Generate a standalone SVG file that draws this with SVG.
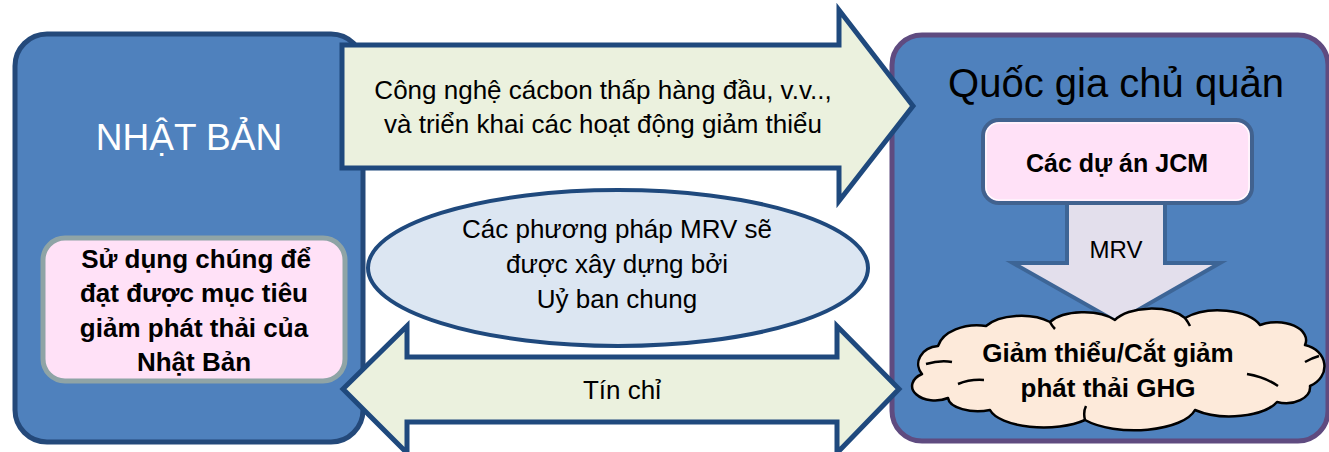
<svg xmlns="http://www.w3.org/2000/svg" width="1329" height="452" viewBox="0 0 1329 452">
<style>
text{font-family:"Liberation Sans",Arial,sans-serif;text-anchor:middle;fill:#000}
.reg{font-size:26px}
.bold{font-size:26px;font-weight:bold}
.big{fill:#fff;font-size:37px}
.bluebox{fill:#4F81BD;stroke-width:5}
.arrow{fill:#EBF1DE;stroke:#1F497D;stroke-width:5;stroke-linejoin:miter}
</style>
<rect width="1329" height="452" fill="#fff"/>
<g id="japan">
<rect class="bluebox" x="15" y="34" width="348" height="408" rx="32" stroke="#24497A"/>
<text class="big" x="189" y="150">NHẬT BẢN</text>
</g>
<g id="japan-goal">
<rect x="43" y="238" width="302" height="143" rx="22" fill="#FFE1F7" stroke="#8FA4A6" stroke-width="5"/>
<text class="bold" x="196" y="268">Sử dụng chúng để</text>
<text class="bold" x="194" y="302">đạt được mục tiêu</text>
<text class="bold" x="194" y="337">giảm phát thải của</text>
<text class="bold" x="194" y="371">Nhật Bản</text>
</g>
<g id="host">
<rect class="bluebox" x="892" y="35" width="436" height="406" rx="30" stroke="#5F4B80"/>
<text x="1116" y="97" style="font-size:40px">Quốc gia chủ quản</text>
</g>
<g id="connectors">
<path id="tech-arrow" class="arrow" d="M342,45 H839 V10 L913,106 L839,201 V168 H342 Z"/>
<path id="credit-arrow" class="arrow" d="M343,389 L407,326 V357 H837 V326 L899,389 L837,453 V422 H407 V453 Z"/>
<path id="mrv-arrow" d="M1067,203 H1165 V263 H1220 L1117,322 L1013,263 H1067 Z" fill="#E3DFEC" stroke="#3D6596" stroke-width="4"/>
</g>
<g id="tech-label">
<text class="reg" x="603" y="99">Công nghệ cácbon thấp hàng đầu, v.v..,</text>
<text class="reg" x="603" y="133">và triển khai các hoạt động giảm thiểu</text>
</g>
<g id="credit-label">
<text class="reg" x="622" y="399">Tín chỉ</text>
</g>
<g id="mrv-label">
<text x="1116" y="258" style="font-size:24px">MRV</text>
</g>
<g id="mrv-methods">
<ellipse cx="618" cy="268" rx="250" ry="78" fill="#DCE6F2" stroke="#1F497D" stroke-width="4"/>
<text class="reg" x="617" y="238">Các phương pháp MRV sẽ</text>
<text class="reg" x="617" y="273">được xây dựng bởi</text>
<text class="reg" x="617" y="308">Uỷ ban chung</text>
</g>
<g id="jcm-projects">
<rect x="983" y="120" width="269" height="83" rx="16" fill="#FFE1F7" stroke="#41628F" stroke-width="4"/>
<rect x="986" y="123" width="263" height="77" rx="13" fill="none" stroke="#fff" stroke-width="1.2"/>
<text x="1117" y="172" style="font-size:25px;font-weight:bold">Các dự án JCM</text>
</g>
<g id="ghg-cloud">
<path d="M922,374 A22,18 0 0 1 938,346 A40,26 0 0 1 986,326 A40,20 0 0 1 1050,322 A38,18 0 0 1 1115,320 A40,20 0 0 1 1185,318 A44,22 0 0 1 1260,325 A30,18 0 0 1 1305,345 A26,22 0 0 1 1310,386 A24,16 0 0 1 1277,402 A50,22 0 0 1 1195,410 A62,26 0 0 1 1085,420 A55,22 0 0 1 990,410 A30,14 0 0 1 948,398 A22,14 0 0 1 922,374 Z" fill="#FDEADA" stroke="#000" stroke-width="2.5" stroke-linejoin="round"/>
<path d="M926,364 Q940,360 952,362 M958,384 Q970,379 984,380 M1247,374 Q1265,377 1278,386 M1305,362 Q1312,358 1319,356 M1085,420 Q1083,412 1086,406 M1185,318 Q1188,322 1190,326 M1050,322 Q1052,326 1055,329" fill="none" stroke="#000" stroke-width="2.5"/>
<text class="bold" x="1108" y="362">Giảm thiểu/Cắt giảm</text>
<text class="bold" x="1108" y="397">phát thải GHG</text>
</g>
</svg>
